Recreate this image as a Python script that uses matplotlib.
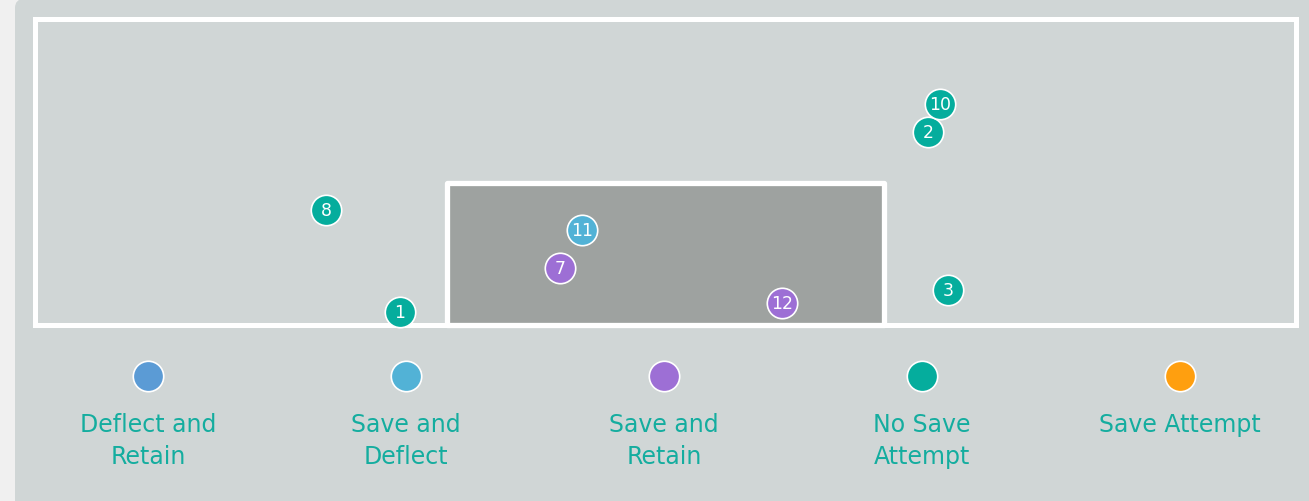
import matplotlib.pyplot as plt
from matplotlib.patches import Rectangle, FancyBboxPatch

# Shot data (positions in pixel-like goal-frame coordinates)
shot_numbers = ["1", "2", "3", "7", "8", "10", "11", "12"]
shot_x = [400, 928, 948, 560, 326, 940, 582, 782]
shot_y = [313, 133, 291, 269, 211, 105, 231, 304]
shot_type = ["No Save Attempt", "No Save Attempt", "No Save Attempt", "Save and Retain",
             "No Save Attempt", "No Save Attempt", "Save and Deflect", "Save and Retain"]

legend_labels = ["Deflect and\nRetain", "Save and\nDeflect", "Save and\nRetain",
                 "No Save\nAttempt", "Save Attempt"]
legend_keys = ["Deflect and Retain", "Save and Deflect", "Save and Retain",
               "No Save Attempt", "Save Attempt"]
colors = {
    "Deflect and Retain": "#5b9bd5",
    "Save and Deflect": "#52b2d6",
    "Save and Retain": "#9d6fd5",
    "No Save Attempt": "#05ad9d",
    "Save Attempt": "#ff9f0f",
}

W, H = 1309, 502
fig = plt.figure(figsize=(W / 100, H / 100), dpi=100)
fig.patch.set_facecolor("#f0f0f0")
ax = fig.add_axes([0, 0, 1, 1])
ax.set_xlim(0, W)
ax.set_ylim(H, 0)
ax.axis("off")

# panel
ax.add_patch(FancyBboxPatch((15, 0), 1320, 530, boxstyle="round,pad=0,rounding_size=9",
                            fc="#d0d6d6", ec="none"))
# outer frame
ax.add_patch(Rectangle((34.5, 20), 1261.5, 306, fill=False, ec="white", lw=3.6))
# goal
ax.add_patch(Rectangle((447, 184), 437, 142, fc="#9ea2a0", ec="white", lw=3.8, joinstyle="round"))

size = 480
for num, x, y, t in zip(shot_numbers, shot_x, shot_y, shot_type):
    ax.scatter(x, y, s=size, c=colors[t], edgecolors="white", linewidths=1.2, zorder=3)
    ax.text(x, y, num, color="white", fontsize=12.5, ha="center", va="center", zorder=4)

# legend
leg_x = [148, 406, 664, 922, 1180]
for lx, key, lab in zip(leg_x, legend_keys, legend_labels):
    ax.scatter(lx, 377, s=size, c=colors[key], edgecolors="white", linewidths=1.2, zorder=3)
    for i, line in enumerate(lab.split("\n")):
        ax.text(lx, 425 + 32 * i, line, color="#14ad9f", fontsize=17,
                ha="center", va="center")

fig.savefig("out.png", dpi=100)
